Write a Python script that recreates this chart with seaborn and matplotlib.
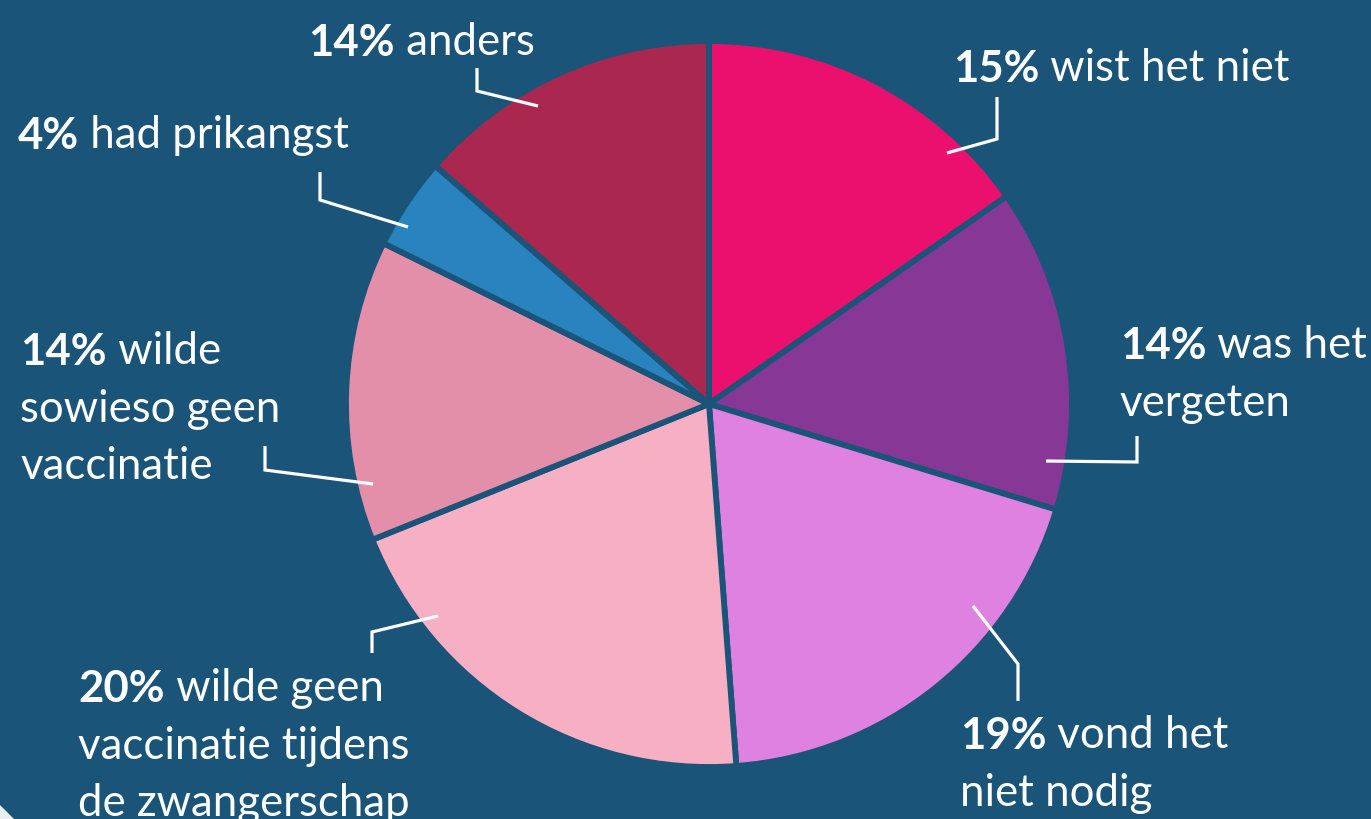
import numpy as np
import matplotlib.pyplot as plt
import seaborn as sns
from matplotlib.patches import Polygon

sns.set_theme(style='white')
plt.rcParams['font.family'] = ['Lato', 'DejaVu Sans']

# slice sizes (as drawn) and the printed labels, clockwise from 12 o'clock
shares = [15.3, 14.4, 19.1, 20.1, 13.4, 4.1, 13.6]
pct_labels = ['15%', '14%', '19%', '20%', '14%', '4%', '14%']
reasons = [
    ['wist het niet'],
    ['was het', 'vergeten'],
    ['vond het', 'niet nodig'],
    ['wilde geen', 'vaccinatie tijdens', 'de zwangerschap'],
    ['wilde', 'sowieso geen', 'vaccinatie'],
    ['had prikangst'],
    ['anders'],
]
colors = ['#EC106E', '#873795', '#DE81E1', '#F7AFC4', '#E48FA9', '#2883BF', '#AA2850']

bg = '#1A5479'

# label anchor (left x, first baseline y) in pixels, and leader line points
label_pos = [(953, 82), (1120, 359), (960, 749), (78, 702), (20, 365), (18, 149), (308, 56)]
leaders = [
    [(947, 154), (997, 140), (997, 98)],
    [(1046, 462), (1137, 463), (1137, 437)],
    [(973, 607), (1018, 665), (1018, 702)],
    [(438, 617), (372, 633), (372, 654)],
    [(373, 485), (265, 471), (265, 447)],
    [(408, 228), (320, 201), (320, 173)],
    [(538, 107), (477, 92), (477, 69)],
]

fig = plt.figure(figsize=(13.71, 8.2), dpi=100)
fig.patch.set_facecolor(bg)
ax = fig.add_axes([0, 0, 1, 1])
ax.set_facecolor(bg)

ax.pie(shares, colors=colors, startangle=-90, counterclock=True,
       center=(709, 405), radius=363,
       wedgeprops=dict(edgecolor=bg, linewidth=4.2))
ax.set_xlim(0, 1371)
ax.set_ylim(820, 0)
ax.set_aspect('equal')
ax.axis('off')

fs = 31.5
line_step = 57
for (x, y), pct, lines, pts in zip(label_pos, pct_labels, reasons, leaders):
    t = ax.text(x, y, pct, fontsize=fs, fontweight='bold', color='white',
                ha='left', va='baseline')
    ax.annotate(' ' + lines[0], xy=(1, 0), xycoords=t, fontsize=fs,
                color='white', ha='left', va='bottom')
    for i, line in enumerate(lines[1:], start=1):
        ax.text(x, y + i * line_step, line, fontsize=fs, color='white',
                ha='left', va='baseline')
    px, py = zip(*pts)
    ax.plot(px, py, color='white', lw=2.3, solid_joinstyle='miter',
            solid_capstyle='butt')

# rounded corner at the bottom left
ax.add_patch(Polygon([(0, 806), (0, 820), (14, 820)], closed=True,
                     facecolor='#E8EEF2', edgecolor='none'))

fig.savefig('out.png', dpi=100, facecolor=bg)
